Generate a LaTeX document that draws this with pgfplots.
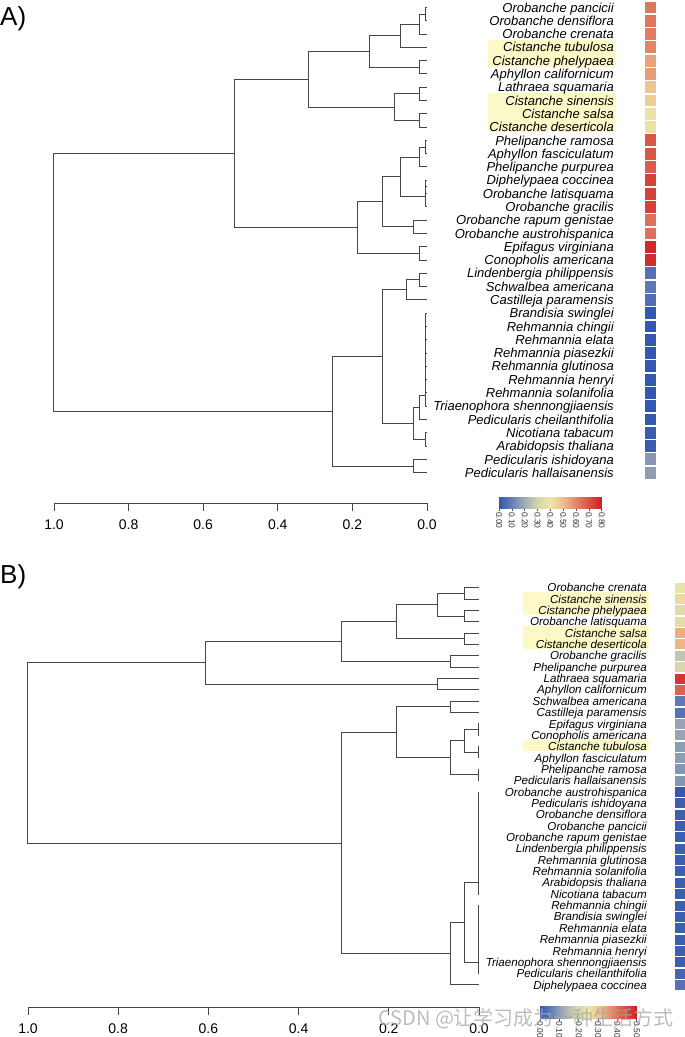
\documentclass[border=0pt]{standalone}
\usepackage{fontspec}
\setmainfont{Liberation Sans}
\newfontfamily\cjk{Noto Sans CJK SC}
\usepackage{pgfplots}
\usepackage{pgfplotstable}
\pgfplotsset{compat=1.18}

\definecolor{hl}{RGB}{253,249,198}
\definecolor{tree}{RGB}{70,70,70}
\pgfplotsset{
  colormap={rdyb}{rgb255=(52,88,174) rgb255=(104,130,182) rgb255=(165,175,178)
    rgb255=(215,214,172) rgb255=(238,230,166) rgb255=(236,190,140)
    rgb255=(226,134,104) rgb255=(214,82,66) rgb255=(204,30,36)},
  dendro/.style={
    scale only axis, clip=false, x dir=reverse, xmin=0, xmax=1,
    axis y line=none, axis x line*=bottom,
    axis line style={tree, line width=0.9bp},
    xtick={0,0.2,0.4,0.6,0.8,1}, tick align=outside, major tick length=8bp,
    tick style={tree, line width=0.9bp},
    /pgf/number format/assume math mode=true,
    xticklabel style={font=\fontsize{14bp}{16bp}\selectfont, yshift=-5bp,
      /pgf/number format/fixed, /pgf/number format/fixed zerofill,
      /pgf/number format/precision=1},
  },
  cbar/.style={
    scale only axis, anchor=south west, ymin=0, ymax=1,
    axis y line=none, axis x line*=bottom, axis line style={draw=none},
    tick align=outside, major tick length=2.5bp, tick style={black!70, line width=0.5bp},
    /pgf/number format/assume math mode=true,
    xticklabel style={rotate=-90, anchor=west, inner sep=1pt, text=black!80,
      font=\fontsize{8.5bp}{9bp}\selectfont,
      /pgf/number format/fixed, /pgf/number format/fixed zerofill,
      /pgf/number format/precision=2},
  },
}

% leaf order, colour value and name, panel A
\pgfplotstableread[col sep=comma]{
row,val,name
1,0.63,Orobanche pancicii
2,0.63,Orobanche densiflora
3,0.62,Orobanche crenata
4,0.60,Cistanche tubulosa
5,0.55,Cistanche phelypaea
6,0.56,Aphyllon californicum
7,0.48,Lathraea squamaria
8,0.46,Cistanche sinensis
9,0.38,Cistanche salsa
10,0.41,Cistanche deserticola
11,0.69,Phelipanche ramosa
12,0.69,Aphyllon fasciculatum
13,0.68,Phelipanche purpurea
14,0.73,Diphelypaea coccinea
15,0.73,Orobanche latisquama
16,0.73,Orobanche gracilis
17,0.64,Orobanche rapum genistae
18,0.64,Orobanche austrohispanica
19,0.78,Epifagus virginiana
20,0.77,Conopholis americana
21,0.06,Lindenbergia philippensis
22,0.08,Schwalbea americana
23,0.05,Castilleja paramensis
24,0.00,Brandisia swinglei
25,0.00,Rehmannia chingii
26,0.00,Rehmannia elata
27,0.00,Rehmannia piasezkii
28,0.00,Rehmannia glutinosa
29,0.00,Rehmannia henryi
30,0.00,Rehmannia solanifolia
31,0.00,Triaenophora shennongjiaensis
32,0.00,Pedicularis cheilanthifolia
33,0.01,Nicotiana tabacum
34,0.01,Arabidopsis thaliana
35,0.15,Pedicularis ishidoyana
36,0.16,Pedicularis hallaisanensis
}\leafA

% panel B
\pgfplotstableread[col sep=comma]{
row,val,name
1,0.24,Orobanche crenata
2,0.27,Cistanche sinensis
3,0.21,Cistanche phelypaea
4,0.22,Orobanche latisquama
5,0.33,Cistanche salsa
6,0.32,Cistanche deserticola
7,0.16,Orobanche gracilis
8,0.19,Phelipanche purpurea
9,0.47,Lathraea squamaria
10,0.42,Aphyllon californicum
11,0.05,Schwalbea americana
12,0.04,Castilleja paramensis
13,0.11,Epifagus virginiana
14,0.11,Conopholis americana
15,0.10,Cistanche tubulosa
16,0.10,Aphyllon fasciculatum
17,0.09,Phelipanche ramosa
18,0.09,Pedicularis hallaisanensis
19,0.00,Orobanche austrohispanica
20,0.01,Pedicularis ishidoyana
21,0.01,Orobanche densiflora
22,0.01,Orobanche pancicii
23,0.01,Orobanche rapum genistae
24,0.01,Lindenbergia philippensis
25,0.01,Rehmannia glutinosa
26,0.01,Rehmannia solanifolia
27,0.01,Arabidopsis thaliana
28,0.01,Nicotiana tabacum
29,0.01,Rehmannia chingii
30,0.01,Brandisia swinglei
31,0.01,Rehmannia elata
32,0.01,Rehmannia piasezkii
33,0.01,Rehmannia henryi
34,0.01,Triaenophora shennongjiaensis
35,0.02,Pedicularis cheilanthifolia
36,0.04,Diphelypaea coccinea
}\leafB

\begin{document}
\begin{tikzpicture}
\useasboundingbox (0,0) rectangle (685bp,-1037bp);

\node[anchor=west, inner sep=0pt, font=\fontsize{26bp}{28bp}\selectfont] at (0bp,-19bp) {A)};
\node[anchor=west, inner sep=0pt, font=\fontsize{26bp}{28bp}\selectfont] at (0bp,-577bp) {B)};

% ---------------- panel A ----------------
\begin{axis}[dendro, at={(54bp,-503bp)}, anchor=south west,
  width=373bp, height=495.5bp, ymin=-38.28, ymax=-1,
  point meta min=0, point meta max=0.8, colormap name=rdyb]
\fill[hl] (axis cs:-0.1635,-3.45) rectangle (axis cs:-0.5067,-5.45);
\fill[hl] (axis cs:-0.1635,-7.46) rectangle (axis cs:-0.5067,-10.35);
\addplot[tree, line width=1bp, unbounded coords=jump] coordinates {
(0,-1) (0.005,-1) (0.005,-2) (0,-2) (0,nan)
(0.005,-1.5) (0.02,-1.5) (0.02,-3) (0,-3) (0,nan)
(0.02,-2.25) (0.07,-2.25) (0.07,-4) (0,-4) (0,nan)
(0,-5) (0.02,-5) (0.02,-6) (0,-6) (0,nan)
(0.07,-3.125) (0.155,-3.125) (0.155,-5.5) (0.02,-5.5) (0,nan)
(0,-7) (0.02,-7) (0.02,-8) (0,-8) (0,nan)
(0,-9) (0.02,-9) (0.02,-10) (0,-10) (0,nan)
(0.02,-7.5) (0.086,-7.5) (0.086,-9.5) (0.02,-9.5) (0,nan)
(0.155,-4.3125) (0.318,-4.3125) (0.318,-8.5) (0.086,-8.5) (0,nan)
(0,-11) (0.005,-11) (0.005,-12) (0,-12) (0,nan)
(0.005,-11.5) (0.02,-11.5) (0.02,-13) (0,-13) (0,nan)
(0,-14) (0.003,-14) (0.003,-15) (0,-15) (0,nan)
(0.003,-14.5) (0.004,-14.5) (0.004,-16) (0,-16) (0,nan)
(0.02,-12.25) (0.07,-12.25) (0.07,-15.25) (0.004,-15.25) (0,nan)
(0,-17) (0.035,-17) (0.035,-18) (0,-18) (0,nan)
(0.07,-13.75) (0.12,-13.75) (0.12,-17.5) (0.035,-17.5) (0,nan)
(0,-19) (0.02,-19) (0.02,-20) (0,-20) (0,nan)
(0.12,-15.625) (0.185,-15.625) (0.185,-19.5) (0.02,-19.5) (0,nan)
(0.318,-6.406) (0.517,-6.406) (0.517,-17.5625) (0.185,-17.5625) (0,nan)
(0,-21) (0.02,-21) (0.02,-22) (0,-22) (0,nan)
(0.02,-21.5) (0.054,-21.5) (0.054,-23) (0,-23) (0,nan)
(0,-24) (0.005,-24) (0.005,-31) (0,-31) (0,nan)
(0,-25) (0.005,-25) (0,nan) (0,-26) (0.005,-26) (0,nan)
(0,-27) (0.005,-27) (0,nan) (0,-28) (0.005,-28) (0,nan)
(0,-29) (0.005,-29) (0,nan) (0,-30) (0.005,-30) (0,nan)
(0.005,-30.2) (0.02,-30.2) (0.02,-32) (0,-32) (0,nan)
(0,-33) (0.005,-33) (0.005,-34) (0,-34) (0,nan)
(0.02,-31.1) (0.037,-31.1) (0.037,-33.5) (0.005,-33.5) (0,nan)
(0.054,-22.25) (0.12,-22.25) (0.12,-32.3) (0.037,-32.3) (0,nan)
(0,-35) (0.037,-35) (0.037,-36) (0,-36) (0,nan)
(0.12,-27.275) (0.253,-27.275) (0.253,-35.5) (0.037,-35.5) (0,nan)
(0.517,-11.98) (1,-11.98) (1,-31.39) (0.253,-31.39)
};
\addplot[scatter, only marks, mark=square*, mark size=5.5bp,
  mark options={yscale=1.08}, point meta=explicit,
  scatter/use mapped color={draw opacity=0, fill=mapped color}]
  table[x expr=-0.598, y expr=-\thisrow{row}, meta=val] {\leafA};
\addplot[only marks, mark=none, nodes near coords, point meta=explicit symbolic,
  every node near coord/.style={anchor=base east, inner sep=0pt, yshift=-4.6bp,
    font=\fontsize{13bp}{15bp}\selectfont\itshape}]
  table[x expr=-0.5013, y expr=-\thisrow{row}, meta=name] {\leafA};
\end{axis}

\begin{axis}[cbar, at={(499bp,-508.3bp)}, width=102.7bp, height=11.6bp,
  xmin=0, xmax=0.8, xtick={0,0.1,0.2,0.3,0.4,0.5,0.6,0.7,0.8},
  colormap name=rdyb, point meta min=0, point meta max=0.8]
\addplot[surf, shader=interp, mesh/cols=9, point meta=x] coordinates {
(0,0) (0.1,0) (0.2,0) (0.3,0) (0.4,0) (0.5,0) (0.6,0) (0.7,0) (0.8,0)
(0,1) (0.1,1) (0.2,1) (0.3,1) (0.4,1) (0.5,1) (0.6,1) (0.7,1) (0.8,1)
};
\end{axis}

% ---------------- panel B ----------------
\begin{axis}[dendro, at={(28bp,-1007bp)}, anchor=south west,
  width=451bp, height=419.3bp, ymin=-37.94, ymax=-1,
  point meta min=0, point meta max=0.5, colormap name=rdyb]
\fill[hl] (axis cs:-0.0969,-1.4) rectangle (axis cs:-0.377,-3.42);
\fill[hl] (axis cs:-0.0969,-4.4) rectangle (axis cs:-0.377,-6.42);
\fill[hl] (axis cs:-0.0969,-14.4) rectangle (axis cs:-0.377,-15.42);
\addplot[tree, line width=1bp, unbounded coords=jump] coordinates {
(0,-1) (0.033,-1) (0.033,-2) (0,-2) (0,nan)
(0,-3) (0.033,-3) (0.033,-4) (0,-4) (0,nan)
(0.033,-1.5) (0.092,-1.5) (0.092,-3.5) (0.033,-3.5) (0,nan)
(0,-5) (0.033,-5) (0.033,-6) (0,-6) (0,nan)
(0.092,-2.5) (0.183,-2.5) (0.183,-5.5) (0.033,-5.5) (0,nan)
(0,-7) (0.063,-7) (0.063,-8) (0,-8) (0,nan)
(0.183,-4) (0.304,-4) (0.304,-7.5) (0.063,-7.5) (0,nan)
(0,-9) (0.092,-9) (0.092,-10) (0,-10) (0,nan)
(0.304,-5.75) (0.607,-5.75) (0.607,-9.5) (0.092,-9.5) (0,nan)
(0,-11) (0.063,-11) (0.063,-12) (0,-12) (0,nan)
(0,-13) (0.002,-13) (0.002,-14) (0,-14) (0,nan)
(0,-15) (0.002,-15) (0.002,-16) (0,-16) (0,nan)
(0.002,-13.5) (0.033,-13.5) (0.033,-15.5) (0.002,-15.5) (0,nan)
(0,-17) (0.002,-17) (0.002,-18) (0,-18) (0,nan)
(0.033,-14.5) (0.063,-14.5) (0.063,-17.5) (0.002,-17.5) (0,nan)
(0.063,-11.5) (0.183,-11.5) (0.183,-16) (0.063,-16) (0,nan)
(0,-19) (0.002,-19) (0.002,-28) (0,-28) (0,nan)
(0,-29) (0.002,-29) (0.002,-35) (0,-35) (0,nan)
(0.002,-27) (0.033,-27) (0.033,-34) (0.002,-34) (0,nan)
(0.033,-30.5) (0.063,-30.5) (0.063,-36) (0,-36) (0,nan)
(0.183,-13.75) (0.304,-13.75) (0.304,-33.25) (0.063,-33.25) (0,nan)
(0.607,-7.625) (1,-7.625) (1,-23.5) (0.304,-23.5)
};
\addplot[scatter, only marks, mark=square*, mark size=5bp, point meta=explicit,
  scatter/use mapped color={draw opacity=0, fill=mapped color}]
  table[x expr=-0.4457, y expr=-\thisrow{row}, meta=val] {\leafB};
\addplot[only marks, mark=none, nodes near coords, point meta=explicit symbolic,
  every node near coord/.style={anchor=base east, inner sep=0pt, yshift=-4.1bp,
    font=\fontsize{11.6bp}{13bp}\selectfont\itshape}]
  table[x expr=-0.3725, y expr=-\thisrow{row}, meta=name] {\leafB};
\end{axis}

\begin{axis}[cbar, at={(540bp,-1018bp)}, width=96.7bp, height=12bp,
  xmin=0, xmax=0.5, xtick={0,0.1,0.2,0.3,0.4,0.5},
  colormap name=rdyb, point meta min=0, point meta max=0.5]
\addplot[surf, shader=interp, mesh/cols=6, point meta=x] coordinates {
(0,0) (0.1,0) (0.2,0) (0.3,0) (0.4,0) (0.5,0)
(0,1) (0.1,1) (0.2,1) (0.3,1) (0.4,1) (0.5,1)
};
\end{axis}

\node[anchor=west, inner sep=0pt, text=gray!70, opacity=0.75,
  font=\cjk\fontsize{20bp}{22bp}\selectfont] at (378bp,-1019bp) {CSDN @让学习成为一种生活方式};
\end{tikzpicture}
\end{document}
